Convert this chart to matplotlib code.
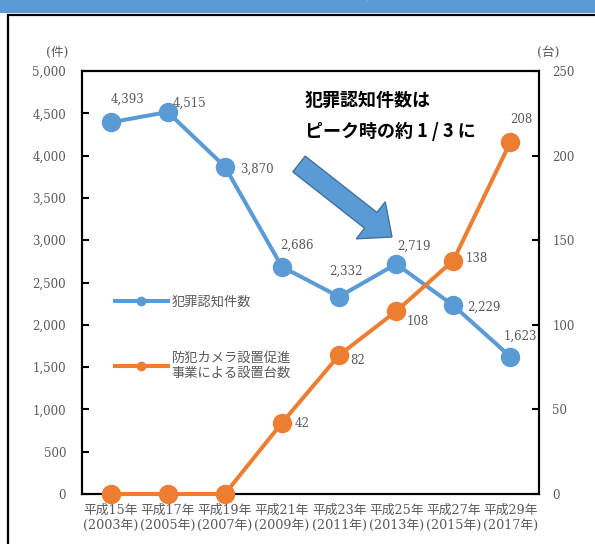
import matplotlib
matplotlib.use("Agg")
import matplotlib.pyplot as plt
from matplotlib.patches import Rectangle, FancyArrow
from matplotlib.lines import Line2D
from matplotlib.ticker import FuncFormatter

# data
years = ["平成15年\n(2003年)", "平成17年\n(2005年)", "平成19年\n(2007年)", "平成21年\n(2009年)",
         "平成23年\n(2011年)", "平成25年\n(2013年)", "平成27年\n(2015年)", "平成29年\n(2017年)"]
crimes = [4393, 4515, 3870, 2686, 2332, 2719, 2229, 1623]
cameras = [0, 0, 0, 42, 82, 108, 138, 208]
crime_label = "犯罪認知件数"
camera_label = "防犯カメラ設置促進\n事業による設置台数"

# label offsets in pixels (dx, dy)
crime_off = [(17, 23), (22, 9), (32, -3), (15, 21), (7, 25), (18, 18), (31, -2), (10, 20)]
camera_off = [None, None, None, (20, -1), (19, -5), (22, -10), (23, 2), (11, 23)]

BLUE = "#5B9BD5"
ORANGE = "#ED7D31"
GRAY = "#595959"
NUM_FONT = ["DejaVu Serif", "Noto Sans CJK JP"]
JP_FONT = ["Noto Sans CJK JP", "DejaVu Sans"]

fig = plt.figure(figsize=(5.95, 5.44), dpi=100)

# header strip and frame
fig.add_artist(Rectangle((0, 1 - 13 / 544), 1, 13 / 544, transform=fig.transFigure,
                         facecolor=BLUE, edgecolor="none"))
fig.text(0.5, 1 - 2 / 544, "防犯カメラ設置台数と犯罪認知件数の推移", color="white",
         ha="center", va="bottom", fontsize=14, fontweight="bold", family=JP_FONT)
fig.add_artist(Rectangle((8 / 595, -0.1), 1.2, 1.1 - 15 / 544, transform=fig.transFigure,
                         facecolor="none", edgecolor="black", lw=1.6))

ax = fig.add_axes([82 / 595, 1 - 494 / 544, 457 / 595, 423 / 544])
ax2 = ax.twinx()

x = list(range(len(years)))
ax.plot(x, crimes, color=BLUE, lw=2.9, marker="o", ms=13, clip_on=False, zorder=3)
ax2.plot(x, cameras, color=ORANGE, lw=2.9, marker="o", ms=13, clip_on=False, zorder=3)

ax.set_xlim(-0.5, len(years) - 0.5)
ax.set_ylim(0, 5000)
ax2.set_ylim(0, 250)
ax.set_yticks(range(0, 5001, 500))
ax2.set_yticks(range(0, 251, 50))
ax.yaxis.set_major_formatter(FuncFormatter(lambda v, p: f"{int(v):,}"))
ax.set_xticks(x)
ax.set_xticklabels(years, family=NUM_FONT, fontsize=9.2, color=GRAY, linespacing=1.25)

for a in (ax, ax2):
    for s in a.spines.values():
        s.set_color("black")
        s.set_linewidth(1.5)
ax.tick_params(axis="x", length=0, pad=7)
ax.tick_params(axis="y", direction="in", length=5, width=1.5, pad=11.5, labelcolor=GRAY, labelsize=8.5)
ax2.tick_params(axis="y", direction="in", length=5, width=1.5, pad=9.5, labelcolor=GRAY, labelsize=8.5)
for lab in ax.get_yticklabels() + ax2.get_yticklabels():
    lab.set_family(NUM_FONT)

# value labels
for xi, v, off in zip(x, crimes, crime_off):
    ax.annotate(f"{v:,}", (xi, v), xytext=off, textcoords="offset pixels", ha="center", va="center",
                fontsize=8.5, color=GRAY, family=NUM_FONT)
for xi, v, off in zip(x, cameras, camera_off):
    if off is None:
        continue
    ax2.annotate(f"{v:,}", (xi, v), xytext=off, textcoords="offset pixels", ha="center", va="center",
                 fontsize=8.5, color=GRAY, family=NUM_FONT)

# unit labels
ax.text(-0.055, 1.045, "(件)", transform=ax.transAxes, ha="center", va="center",
        fontsize=9, color=GRAY, family=NUM_FONT)
ax.text(1.02, 1.045, "(台)", transform=ax.transAxes, ha="center", va="center",
        fontsize=9, color=GRAY, family=NUM_FONT)

# legend
handles = [Line2D([], [], color=BLUE, lw=2.9, marker="o", ms=6),
           Line2D([], [], color=ORANGE, lw=2.9, marker="o", ms=6)]
leg = ax2.legend(handles, [crime_label, camera_label], loc="upper left", bbox_to_anchor=(0.072, 0.47),
                 frameon=False, borderpad=0, borderaxespad=0, handlelength=4, handletextpad=0.3,
                 labelspacing=3.3, prop={"family": JP_FONT, "size": 9.5})
for t in leg.get_texts():
    t.set_color(GRAY)

# callout
fig.text(305 / 595, 1 - 100 / 544, "犯罪認知件数は", fontsize=13, fontweight="bold",
         family=JP_FONT, va="center", ha="left")
fig.text(305 / 595, 1 - 131 / 544, "ピーク時の約 1 / 3 に", fontsize=13, fontweight="bold",
         family=JP_FONT, va="center", ha="left")
fig.add_artist(FancyArrow(2.99, 5.44 - 1.64, 0.93, -0.73, width=0.20, head_width=0.47,
                          head_length=0.27, length_includes_head=True,
                          transform=fig.dpi_scale_trans, facecolor=BLUE, edgecolor="#41719C", lw=1))

fig.savefig("out.png", dpi=100)
